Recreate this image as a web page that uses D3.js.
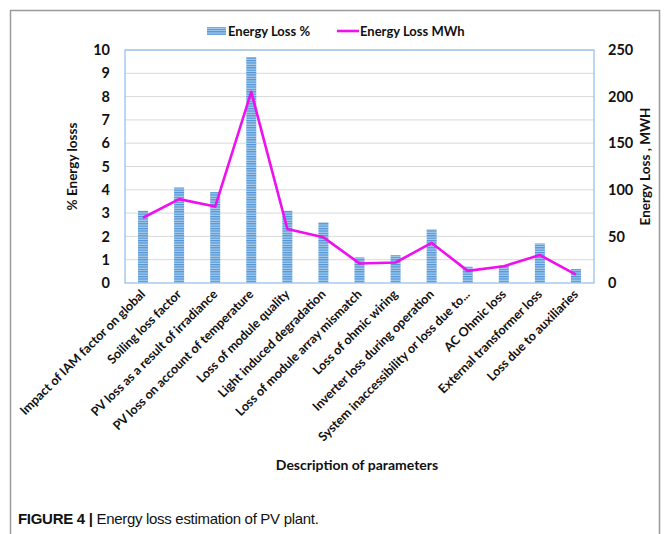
<!DOCTYPE html>
<html lang="en">
<head>
<meta charset="utf-8">
<script src="https://d3js.org/d3.v7.min.js"></script>
<style>
  body { margin: 0; background: #fff; }
  text { font-family: Lato, "Open Sans", sans-serif; }
</style>
</head>
<body>
<div id="chart"></div>
<script>
// chart data
const categories = [
  "Impact of IAM factor on global",
  "Soiling loss factor",
  "PV loss as a result of irradiance",
  "PV loss on account of temperature",
  "Loss of module quality",
  "Light induced degradation",
  "Loss of module array mismatch",
  "Loss of ohmic wiring",
  "Inverter loss during operation",
  "System inaccessibility or loss due to...",
  "AC Ohmic loss",
  "External transformer loss",
  "Loss due to auxiliaries"
];
const lossPercent = [3.1, 4.1, 3.9, 9.7, 3.1, 2.6, 1.1, 1.2, 2.3, 0.7, 0.75, 1.7, 0.6];
const lossMWh = [70, 90, 82, 205, 58, 49, 21, 22, 43, 13, 18, 30, 9];
const leftTicks = [0, 1, 2, 3, 4, 5, 6, 7, 8, 9, 10];
const rightTicks = [0, 50, 100, 150, 200, 250];

const width = 664, height = 534;
const plot = { left: 125, right: 594, top: 50, bottom: 283 };

const svg = d3.select("#chart").append("svg")
  .attr("width", width)
  .attr("height", height);

// outer frame
svg.append("rect")
  .attr("x", 10.5).attr("y", 10.5)
  .attr("width", 649).attr("height", 540)
  .attr("fill", "none")
  .attr("stroke", "#9a9a9a")
  .attr("stroke-width", 1.5);

// striped fill for the bars
const defs = svg.append("defs");
const pat = defs.append("pattern")
  .attr("id", "stripes")
  .attr("patternUnits", "userSpaceOnUse")
  .attr("width", 4).attr("height", 2.4);
pat.append("rect").attr("width", 4).attr("height", 2.4).attr("fill", "#a9cdee");
pat.append("rect").attr("width", 4).attr("height", 1.2).attr("fill", "#4f93d3");

const x = d3.scaleBand()
  .domain(categories)
  .range([plot.left, plot.right]);

const yL = d3.scaleLinear().domain([0, 10]).range([plot.bottom, plot.top]);
const yR = d3.scaleLinear().domain([0, 250]).range([plot.bottom, plot.top]);

// gridlines
svg.append("g")
  .selectAll("line")
  .data(leftTicks.slice(1))
  .join("line")
  .attr("x1", plot.left).attr("x2", plot.right)
  .attr("y1", d => yL(d)).attr("y2", d => yL(d))
  .attr("stroke", "#d9d9d9")
  .attr("stroke-width", 1);

// plot border
svg.append("rect")
  .attr("x", plot.left).attr("y", plot.top)
  .attr("width", plot.right - plot.left)
  .attr("height", plot.bottom - plot.top)
  .attr("fill", "none")
  .attr("stroke", "#8fbde8")
  .attr("stroke-width", 1.2);

// bars
const barW = 10;
svg.append("g")
  .selectAll("rect")
  .data(categories)
  .join("rect")
  .attr("x", d => x(d) + x.bandwidth() / 2 - barW / 2)
  .attr("y", (d, i) => yL(lossPercent[i]))
  .attr("width", barW)
  .attr("height", (d, i) => yL(0) - yL(lossPercent[i]))
  .attr("fill", "url(#stripes)");

// line
svg.append("path")
  .datum(lossMWh)
  .attr("fill", "none")
  .attr("stroke", "#ee11ee")
  .attr("stroke-width", 2.6)
  .attr("stroke-linejoin", "round")
  .attr("d", d3.line()
    .x((d, i) => x(categories[i]) + x.bandwidth() / 2)
    .y(d => yR(d)));

// left axis
const axL = svg.append("g")
  .attr("transform", `translate(${plot.left},0)`)
  .call(d3.axisLeft(yL).tickValues(leftTicks).tickSize(0).tickPadding(15));
axL.select(".domain").remove();
axL.selectAll("text")
  .attr("font-size", 14.5).attr("font-weight", "bold").attr("fill", "#111")
  .style("font-family", "Lato, sans-serif");

// right axis
const axR = svg.append("g")
  .attr("transform", `translate(${plot.right},0)`)
  .call(d3.axisRight(yR).tickValues(rightTicks).tickSize(0).tickPadding(14));
axR.select(".domain").remove();
axR.selectAll("text")
  .attr("font-size", 14.5).attr("font-weight", "bold").attr("fill", "#111")
  .style("font-family", "Lato, sans-serif");

// category labels
svg.append("g")
  .selectAll("text")
  .data(categories)
  .join("text")
  .attr("transform", d => `translate(${x(d) + x.bandwidth() / 2 + 3},${plot.bottom + 12}) rotate(-45)`)
  .attr("text-anchor", "end")
  .attr("font-size", 12.6)
  .attr("font-weight", "bold")
  .attr("fill", "#111")
  .text(d => d);

// axis titles
svg.append("text")
  .attr("transform", `translate(77,${(plot.top + plot.bottom) / 2}) rotate(-90)`)
  .attr("text-anchor", "middle")
  .attr("font-size", 13.5).attr("font-weight", "bold").attr("fill", "#111")
  .text("% Energy losss");

svg.append("text")
  .attr("transform", `translate(650,${(plot.top + plot.bottom) / 2}) rotate(-90)`)
  .attr("text-anchor", "middle")
  .attr("font-size", 13.5).attr("font-weight", "bold").attr("fill", "#111")
  .text("Energy Loss , MWH");

svg.append("text")
  .attr("x", 357).attr("y", 470)
  .attr("text-anchor", "middle")
  .attr("font-size", 14).attr("font-weight", "bold").attr("fill", "#111")
  .text("Description of parameters");

// legend
const lg = svg.append("g").attr("font-size", 13).attr("font-weight", "bold").attr("fill", "#111");
lg.append("rect").attr("x", 207).attr("y", 27).attr("width", 19).attr("height", 8).attr("fill", "url(#stripes)");
lg.append("text").attr("x", 228).attr("y", 36).text("Energy Loss %");
lg.append("line").attr("x1", 337).attr("x2", 359).attr("y1", 31).attr("y2", 31)
  .attr("stroke", "#ee11ee").attr("stroke-width", 2.6);
lg.append("text").attr("x", 360).attr("y", 36).text("Energy Loss MWh");

// caption
const cap = svg.append("text")
  .attr("x", 18).attr("y", 524)
  .attr("font-size", 15)
  .attr("fill", "#111")
  .attr("letter-spacing", -0.3)
  .style("font-family", "'Liberation Sans', Arial, sans-serif");
cap.append("tspan").attr("font-weight", "bold").text("FIGURE 4 | ");
cap.append("tspan").text("Energy loss estimation of PV plant.");
</script>
</body>
</html>
